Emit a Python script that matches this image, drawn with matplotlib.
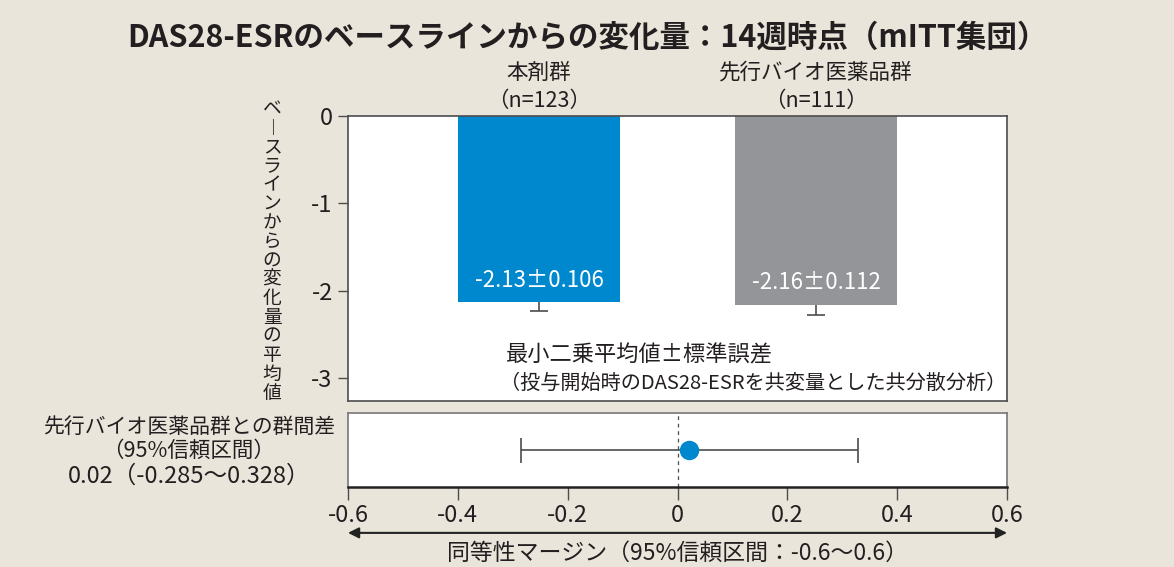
import matplotlib
matplotlib.use("Agg")
import matplotlib.pyplot as plt

plt.rcParams["font.family"] = ["Noto Sans CJK JP", "DejaVu Sans"]

# data
groups = ["本剤群", "先行バイオ医薬品群"]
n_labels = ["（n=123）", "（n=111）"]
ls_means = [-2.13, -2.16]
std_errs = [0.106, 0.112]
bar_colors = ["#0088cf", "#939598"]
diff_value = 0.02
diff_ci = [-0.285, 0.328]
margin = [-0.6, 0.6]
y_ticks = [0, -1, -2, -3]
x_ticks = [-0.6, -0.4, -0.2, 0, 0.2, 0.4, 0.6]

bg = "#e9e5da"
line_col = "#4d4d4d"
text_col = "#231f20"

fig = plt.figure(figsize=(11.74, 5.67), dpi=100, facecolor=bg)

# top panel: LS mean change
ax = fig.add_axes([0.2964, 0.2928, 0.5614, 0.5026])
xpos = list(range(len(groups)))
ax.bar(xpos, ls_means, width=0.585, color=bar_colors, zorder=2)
ax.errorbar(xpos, ls_means, yerr=std_errs, fmt="none",
            ecolor=line_col, elinewidth=1.2, capsize=6.5, capthick=1.2, zorder=1)
for x, m, se in zip(xpos, ls_means, std_errs):
    ax.text(x, m + 0.25, f"{m:.2f}±{se:.3f}", color="white", fontsize=16,
            ha="center", va="center", zorder=3)
for x, g, n in zip(xpos, groups, n_labels):
    ax.text(x, 1.151, g, transform=ax.get_xaxis_transform(), ha="center",
            va="center", fontsize=15.5, color=text_col)
    ax.text(x, 1.053, n, transform=ax.get_xaxis_transform(), ha="center",
            va="center", fontsize=15.5, color=text_col)
ax.set_xlim(-0.69, 1.69)
ax.set_ylim(-3.26, 0)
ax.set_yticks(y_ticks)
ax.set_yticklabels([str(t) if t == 0 else f"-{abs(t)}" for t in y_ticks])
ax.set_xticks([])
ax.tick_params(axis="y", length=7, width=1, color=line_col, labelsize=17,
               labelcolor=text_col, pad=4)
for s in ax.spines.values():
    s.set_color(line_col)
    s.set_linewidth(1.2)
ax.text(0.24, 0.16, "最小二乗平均値±標準誤差", transform=ax.transAxes,
        fontsize=16, color=text_col, va="center", ha="left")
ax.text(0.23, 0.06, "（投与開始時のDAS28-ESRを共変量とした共分散分析）",
        transform=ax.transAxes, fontsize=14.5, color=text_col, va="center", ha="left")

ylabel = "ベ︱スラインからの変化量の平均値"
fig.text(0.2317, 0.557, "\n".join(ylabel), ha="center", va="center",
         fontsize=13.5, linespacing=0.87, color=text_col)

fig.text(0.5, 0.933, "DAS28-ESRのベースラインからの変化量：14週時点（mITT集団）",
         ha="center", va="center", fontsize=22, fontweight="bold", color=text_col)

# bottom panel: difference between groups
ax2 = fig.add_axes([0.2964, 0.1411, 0.5614, 0.1305])
ax2.axvline(0, color=line_col, linestyle=(0, (3, 3)), linewidth=0.9)
ax2.errorbar([diff_value], [0.5],
             xerr=[[diff_value - diff_ci[0]], [diff_ci[1] - diff_value]],
             fmt="o", color="#0088cf", markersize=13, ecolor=line_col,
             elinewidth=1.2, capsize=9, capthick=1.2, zorder=3)
ax2.set_xlim(margin)
ax2.set_ylim(0, 1)
ax2.set_yticks([])
ax2.set_xticks(x_ticks)
ax2.set_xticklabels([("0" if t == 0 else f"{t:g}") for t in x_ticks])
ax2.tick_params(axis="x", length=9, width=1, color=line_col, labelsize=17,
                labelcolor=text_col, pad=3)
for s in ax2.spines.values():
    s.set_color("#777777")
    s.set_linewidth(1.2)
ax2.spines["bottom"].set_color("#222222")
ax2.spines["bottom"].set_linewidth(1.8)

fig.text(0.161, 0.247, "先行バイオ医薬品群との群間差", ha="center", va="center",
         fontsize=15, color=text_col)
fig.text(0.161, 0.205, "（95%信頼区間）", ha="center", va="center",
         fontsize=15.5, color=text_col)
fig.text(0.161, 0.160, f"{diff_value:.2f}（{diff_ci[0]}～{diff_ci[1]}）",
         ha="center", va="center", fontsize=17, color=text_col)

ax2.annotate("", xy=(margin[1], -0.62), xytext=(margin[0], -0.62),
             xycoords=("data", "axes fraction"), textcoords=("data", "axes fraction"),
             arrowprops=dict(arrowstyle="<|-|>", color="#222222", lw=1.5,
                             mutation_scale=16, shrinkA=0, shrinkB=0),
             annotation_clip=False)
ax2.text(0, -0.89, "同等性マージン（95%信頼区間：-0.6～0.6）",
         transform=ax2.get_xaxis_transform(), ha="center", va="center",
         fontsize=16.5, color=text_col)

fig.savefig("out.png", dpi=100, facecolor=bg)
